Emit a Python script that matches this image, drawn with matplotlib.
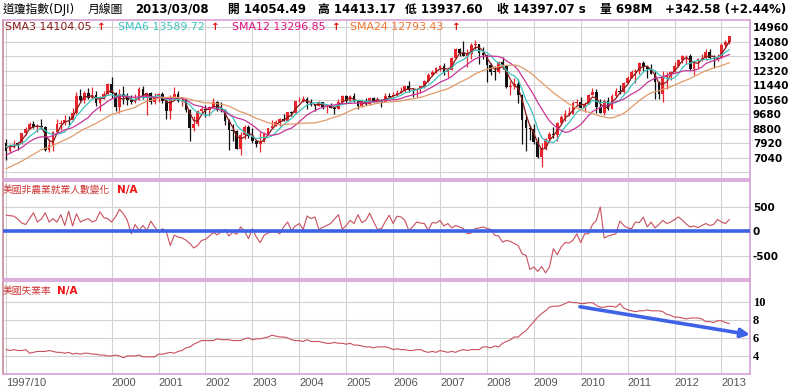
import numpy as np
import pandas as pd
import matplotlib
matplotlib.use("Agg")
import matplotlib.pyplot as plt

plt.rcParams['font.family'] = ['DejaVu Sans', 'Noto Sans CJK TC']

# monthly candles 1997/10 .. 2013/03
opens = [
    7945, 7442, 7823,
    7908, 7907, 8546, 8800, 9063, 8900, 8952, 8883, 7539, 7843, 8592, 9117,
    9181, 9359, 9307, 9786, 10789, 10560, 10971, 10655, 10829, 10337, 10729, 10878,
    11497, 10941, 10128, 10922, 10734, 10522, 10448, 10522, 11215, 10651, 10971, 10415,
    10788, 10887, 10495, 9879, 10735, 10912, 10502, 10523, 9950, 8848, 9075, 9852,
    10022, 9920, 10106, 10404, 9946, 9925, 9243, 8737, 8664, 7592, 8397, 8896,
    8342, 8054, 7891, 7992, 8480, 8850, 8985, 9234, 9416, 9275, 9801, 9782,
    10454, 10488, 10584, 10358, 10226, 10188, 10435, 10140, 10174, 10080, 10027, 10428,
    10783, 10490, 10766, 10504, 10193, 10467, 10275, 10641, 10482, 10569, 10440, 10806,
    10718, 10865, 10993, 11109, 11367, 11168, 11150, 11186, 11381, 11679, 12081, 12222,
    12463, 12622, 12269, 12354, 13063, 13628, 13409, 13212, 13358, 13896, 13930, 13372,
    13265, 12650, 12266, 12263, 12820, 12638, 11350, 11378, 11544, 10851, 9325, 8829,
    8776, 8001, 7063, 7609, 8168, 8500, 8447, 9172, 9496, 9712, 9713, 10345,
    10428, 10067, 10325, 10857, 11009, 10137, 9774, 10466, 10015, 10788, 11118, 11006,
    11578, 11892, 12226, 12320, 12811, 12570, 12414, 12143, 11614, 10913, 11955, 12046,
    12218, 12633, 12952, 13212, 13214, 12393, 12880, 13009, 13091, 13437, 13096, 13026,
    13104, 13861, 14054.49,
]
highs = [
    8178, 7885, 8150,
    7980, 8570, 8905, 9200, 9260, 9070, 9370, 8950, 8160, 8660, 9410, 9330,
    9650, 9550, 10080, 11000, 11190, 11060, 11250, 11330, 11100, 10810, 11090, 11570,
    11910, 11040, 11200, 11400, 10980, 10860, 10900, 11330, 11400, 10980, 11030, 10960,
    10990, 11020, 10720, 10850, 11350, 11100, 10700, 10620, 10000, 9580, 9930, 10200,
    10260, 10200, 10670, 10500, 10400, 9980, 9400, 9080, 8720, 8600, 9040, 9060,
    8870, 8100, 8580, 8580, 8850, 9350, 9330, 9470, 9690, 9840, 9880, 10460,
    10750, 10760, 10700, 10580, 10320, 10500, 10440, 10220, 10380, 10200, 10600, 10870,
    10850, 10850, 10980, 10570, 10560, 10650, 10720, 10720, 10700, 10580, 10940, 10950,
    11050, 11150, 11330, 11420, 11710, 11250, 11300, 11420, 11730, 12170, 12360, 12530,
    12660, 12800, 12470, 13140, 13690, 13720, 14120, 13660, 14000, 14200, 13950, 13780,
    13280, 12770, 12620, 12880, 13140, 12660, 11720, 11880, 11790, 10900, 9660, 9030,
    9090, 8320, 7960, 8260, 8590, 8890, 9240, 9630, 9920, 10120, 10470, 10580,
    10730, 10400, 10910, 11260, 11210, 10600, 10600, 10720, 10880, 11250, 11450, 11630,
    11990, 12390, 12420, 12850, 12880, 12600, 12750, 12290, 11720, 12280, 12250, 12330,
    12850, 13000, 13290, 13300, 13340, 12900, 13100, 13330, 13660, 13660, 13290, 13330,
    13970, 14150, 14413.17,
]
lows = [
    6936, 7350, 7655,
    7540, 7850, 8450, 8800, 8850, 8600, 8800, 7480, 7400, 7470, 8560, 8720,
    9050, 9050, 9270, 9700, 10490, 10360, 10620, 10600, 10200, 9880, 10580, 10850,
    10640, 9860, 9730, 10300, 10270, 10300, 10370, 10520, 10580, 9650, 10320, 10320,
    10430, 10360, 9390, 9390, 10630, 10400, 10170, 9830, 8060, 8660, 9000, 9750,
    9530, 9600, 10040, 9890, 9800, 9040, 7530, 8040, 7580, 7200, 8170, 8230,
    7950, 7670, 7420, 7990, 8420, 8850, 8950, 9000, 9260, 9250, 9560, 9760,
    10400, 10430, 10000, 10200, 9850, 10180, 10000, 9780, 10050, 9710, 10020, 10380,
    10340, 10400, 10400, 10000, 10100, 10270, 10230, 10400, 10350, 10150, 10400, 10700,
    10650, 10800, 10950, 11000, 11000, 10700, 10740, 10950, 11300, 11660, 11980, 12180,
    12320, 12050, 11940, 12340, 13030, 13190, 13180, 12520, 13040, 13600, 12720, 13000,
    11630, 12030, 11730, 12160, 12430, 11280, 10830, 11220, 10360, 7880, 7450, 8150,
    7910, 7020, 6470, 7540, 8020, 8220, 8090, 9070, 9250, 9590, 9670, 10230,
    10040, 9840, 10300, 10850, 9770, 9750, 9610, 9930, 9990, 10710, 10930, 10980,
    11550, 11860, 11550, 12090, 12330, 11860, 12090, 10600, 10600, 10400, 11230, 11730,
    12190, 12550, 12760, 12710, 12350, 12040, 12490, 12930, 12980, 13050, 12470, 12880,
    13100, 13780, 13937.60,
]
closes = [
    7442, 7823, 7908,
    7907, 8546, 8800, 9063, 8900, 8952, 8883, 7539, 7843, 8592, 9117, 9181,
    9359, 9307, 9786, 10789, 10560, 10971, 10655, 10829, 10337, 10729, 10878, 11497,
    10941, 10128, 10922, 10734, 10522, 10448, 10522, 11215, 10651, 10971, 10415, 10788,
    10887, 10495, 9879, 10735, 10912, 10502, 10523, 9950, 8848, 9075, 9852, 10022,
    9920, 10106, 10404, 9946, 9925, 9243, 8737, 8664, 7592, 8397, 8896, 8342,
    8054, 7891, 7992, 8480, 8850, 8985, 9234, 9416, 9275, 9801, 9782, 10454,
    10488, 10584, 10358, 10226, 10188, 10435, 10140, 10174, 10080, 10027, 10428, 10783,
    10490, 10766, 10504, 10193, 10467, 10275, 10641, 10482, 10569, 10440, 10806, 10718,
    10865, 10993, 11109, 11367, 11168, 11150, 11186, 11381, 11679, 12081, 12222, 12463,
    12622, 12269, 12354, 13063, 13628, 13409, 13212, 13358, 13896, 13930, 13372, 13265,
    12650, 12266, 12263, 12820, 12638, 11350, 11378, 11544, 10851, 9325, 8829, 8776,
    8001, 7063, 7609, 8168, 8500, 8447, 9172, 9496, 9712, 9713, 10345, 10428,
    10067, 10325, 10857, 11009, 10137, 9774, 10466, 10015, 10788, 11118, 11006, 11578,
    11892, 12226, 12320, 12811, 12570, 12414, 12143, 11614, 10913, 11955, 12046, 12218,
    12633, 12952, 13212, 13214, 12393, 12880, 13009, 13091, 13437, 13096, 13026, 13104,
    13861, 14054.49, 14397.07,
]
# closes 1995/11 .. 1997/09, only used to warm up the moving averages
earlier_closes = [5074, 5117, 5395, 5486, 5587, 5569, 5643, 5655, 5529, 5616, 5882, 6029,
                  6522, 6448, 6813, 6878, 6584, 7009, 7331, 7673, 8223, 7622, 7945]

# nonfarm payroll change (thousands)
payrolls = [
    330, 320, 310, 250, 170, 140, 260, 380, 190, 250, 380, 190,
    260, 190, 340, 120, 410, 110, 360, 190, 230, 260, 190, 225,
    400, 280, 260, 190, 300, 450, 360, 225, -50, 140, 20, 120,
    20, 210, 90, -15, 55, -15, -290, -80, -115, -135, -180, -250,
    -340, -290, -185, -165, -95, -25, -70, -10, 40, -95, -15, -60,
    90, 0, -150, 55, -115, -230, -80, -35, -10, -5, -50, 90,
    190, 20, 110, 160, 40, 315, 260, 295, 40, 80, 120, 160,
    250, 340, 40, 120, 225, 160, 340, 180, 225, 370, 200, 40,
    55, 200, 330, 160, 310, 295, 225, 20, 90, 190, 170, 160,
    20, 180, 170, 225, 110, 160, 70, 120, 90, 55, -50, -35,
    55, 70, 90, 60, 40, -80, -95, -220, -185, -205, -250, -290,
    -460, -490, -780, -730, -820, -720, -850, -730, -355, -480, -320, -230,
    -240, -185, -50, -230, -50, -50, 140, 225, 500, -135, -95, -70,
    -50, 210, 120, 70, 55, 190, 180, 290, 90, 190, 70, 140,
    225, 160, 190, 240, 295, 225, 150, 90, 110, 75, 120, 160,
    120, 140, 245, 190, 160, 240,
]

# unemployment rate (%)
unemployment = [
    4.7, 4.6, 4.7,
    4.6, 4.6, 4.7, 4.3, 4.4, 4.5, 4.5, 4.5, 4.6, 4.5, 4.4, 4.4,
    4.3, 4.4, 4.2, 4.3, 4.2, 4.3, 4.3, 4.2, 4.2, 4.1, 4.1, 4.0,
    4.0, 4.1, 4.0, 3.8, 4.0, 4.0, 4.0, 4.1, 3.9, 3.9, 3.9, 3.9,
    4.2, 4.2, 4.3, 4.4, 4.3, 4.5, 4.6, 4.9, 5.0, 5.3, 5.5, 5.7,
    5.7, 5.7, 5.7, 5.9, 5.8, 5.8, 5.8, 5.7, 5.7, 5.7, 5.9, 6.0,
    5.8, 5.9, 5.9, 6.0, 6.1, 6.3, 6.2, 6.1, 6.1, 6.0, 5.8, 5.7,
    5.7, 5.6, 5.8, 5.6, 5.6, 5.6, 5.5, 5.4, 5.4, 5.5, 5.4, 5.4,
    5.3, 5.4, 5.2, 5.2, 5.1, 5.0, 5.0, 4.9, 5.0, 5.0, 5.0, 4.9,
    4.7, 4.8, 4.7, 4.7, 4.6, 4.6, 4.7, 4.7, 4.5, 4.4, 4.5, 4.4,
    4.6, 4.5, 4.4, 4.5, 4.4, 4.6, 4.7, 4.6, 4.7, 4.7, 4.7, 5.0,
    5.0, 4.9, 5.1, 5.0, 5.4, 5.6, 5.8, 6.1, 6.1, 6.5, 6.8, 7.3,
    7.8, 8.3, 8.7, 9.0, 9.4, 9.5, 9.5, 9.6, 9.8, 10.0, 9.9, 9.9,
    9.8, 9.8, 9.9, 9.9, 9.6, 9.4, 9.4, 9.5, 9.5, 9.4, 9.8, 9.3,
    9.1, 9.0, 8.9, 9.0, 9.0, 9.1, 9.0, 9.0, 9.0, 8.9, 8.6, 8.5,
    8.3, 8.3, 8.2, 8.1, 8.2, 8.2, 8.2, 8.1, 7.8, 7.8, 7.7, 7.9,
    7.9, 7.7, 7.6,
]

year_pos = [0, 27, 39, 51, 63, 75, 87, 99, 111, 123, 135, 147, 159, 171, 183]
year_labels = ['1997/10', '2000', '2001', '2002', '2003', '2004', '2005', '2006',
               '2007', '2008', '2009', '2010', '2011', '2012', '2013']
price_ticks = [6160, 7040, 7920, 8800, 9680, 10560, 11440, 12320, 13200, 14080, 14960]
price_labels = ['', '7040', '7920', '8800', '9680', '10560', '11440', '12320', '13200', '14080', '14960']
payroll_ticks = [-500, 0, 500]
rate_ticks = [4, 6, 8, 10]
trend_start = (146.8, 9.45)
trend_end = (190.3, 6.35)

sma_periods = [3, 6, 12, 24]
sma_colors = ['#8b1a1a', '#3cc4c0', '#c8359a', '#e39a68']
sma_texts = ['SMA3 14104.05', 'SMA6 13589.72', 'SMA12 13296.85', 'SMA24 12793.43']
sma_text_colors = ['#8b1a1a', '#3cc4c0', '#e0107f', '#f07830']

W, H = 800, 392
fig = plt.figure(figsize=(8, 3.92), dpi=100)
fig.patch.set_facecolor('white')

def box(top, bottom):
    return [3 / W, 1 - bottom / H, (750 - 3) / W, (bottom - top) / H]

ax1 = fig.add_axes(box(20, 179))
ax2 = fig.add_axes(box(181, 279))
ax3 = fig.add_axes(box(281, 374))

x = np.arange(len(closes))
o = np.array(opens, float)
h = np.array(highs, float)
l = np.array(lows, float)
c = np.array(closes, float)

for ax in (ax1, ax2, ax3):
    ax.set_xlim(-0.8, 190.3)
    ax.set_xticks(year_pos)
    ax.grid(True, color='#d2d2d2', lw=0.8)
    ax.set_axisbelow(True)
    ax.yaxis.tick_right()
    ax.tick_params(length=0, pad=2)
    ax.tick_params(axis='x', labelbottom=False)
    for s in ax.spines.values():
        s.set_color('#d7a0d7')
        s.set_linewidth(1.2)
    ax.spines['left'].set_color('#c88a9a')

# candles
up = c >= o
col = np.where(up, '#e8242c', '#111111')
ax1.vlines(x, l, h, colors=col, lw=0.9, zorder=2)
body = np.maximum(np.abs(c - o), 25)
ax1.bar(x, body, bottom=np.minimum(o, c), width=0.7, color=col, zorder=3)

full = pd.Series(earlier_closes + closes, dtype=float)
n0 = len(earlier_closes)
for p, clr in zip(sma_periods, sma_colors):
    sma = full.rolling(p).mean().values[n0:]
    ax1.plot(x, sma, color=clr, lw=0.9, zorder=4)

ax1.set_ylim(5760, 15390)
ax1.set_yticks(price_ticks)
ax1.set_yticklabels(price_labels, fontsize=7.5, fontweight='bold')

# payrolls
ax2.plot(x, payrolls, color='#c8505e', lw=0.8, zorder=3)
ax2.axhline(0, color='#3d62e6', lw=2.6, zorder=4)
ax2.set_ylim(-975, 1030)
ax2.set_yticks(payroll_ticks)
ax2.set_yticklabels([str(v) for v in payroll_ticks], fontsize=7.5, fontweight='bold')

# unemployment
ax3.plot(x, unemployment, color='#c8505e', lw=0.8, zorder=3)
ax3.set_ylim(2.0, 12.3)
ax3.set_yticks(rate_ticks)
ax3.set_yticklabels([str(v) for v in rate_ticks], fontsize=9, fontweight='bold',
                    family='Liberation Serif')
ax3.annotate('', xy=trend_end, xytext=trend_start, annotation_clip=False,
             arrowprops=dict(arrowstyle='-|>', color='#3d62e6', lw=2.6,
                             mutation_scale=13, shrinkA=0, shrinkB=0))
ax3.tick_params(axis='x', labelbottom=True, pad=3)
ax3.set_xticklabels(year_labels, ha='left', fontsize=8, color='#555555',
                    family='Liberation Sans')

def ftext(px, py, s, **kw):
    fig.text(px / W, 1 - py / H, s, ha='left', va='center', **kw)

# header
ftext(3, 9, '道瓊指數(DJI)', fontsize=8.5, color='black')
ftext(88, 9, '月線圖', fontsize=8.5, color='black')
header = [(135, '2013/03/08'), (228, '開 14054.49'), (318, '高 14413.17'),
          (405, '低 13937.60'), (497, '收 14397.07 s'), (600, '量 698M'),
          (665, '+342.58 (+2.44%)')]
for px, s in header:
    ftext(px, 9, s, fontsize=8.5, fontweight='bold', color='black')

# moving average legend
for px, ax_px, s, clr in zip([5, 118, 232, 350], [97, 211, 332, 452], sma_texts, sma_text_colors):
    ftext(px, 27, s, fontsize=7.9, color=clr)
    ftext(ax_px, 27, '↑', fontsize=7.5, fontweight='bold', color='#e01010')

# panel titles
ftext(3, 190, '美國非農業就業人數變化', fontsize=7, color='#cc3333')
ftext(117, 190, 'N/A', fontsize=7.5, fontweight='bold', color='#ee1111')
ftext(3, 291, '美國失業率', fontsize=7, color='#cc3333')
ftext(57, 291, 'N/A', fontsize=7.5, fontweight='bold', color='#ee1111')

fig.savefig('out.png', dpi=100)
